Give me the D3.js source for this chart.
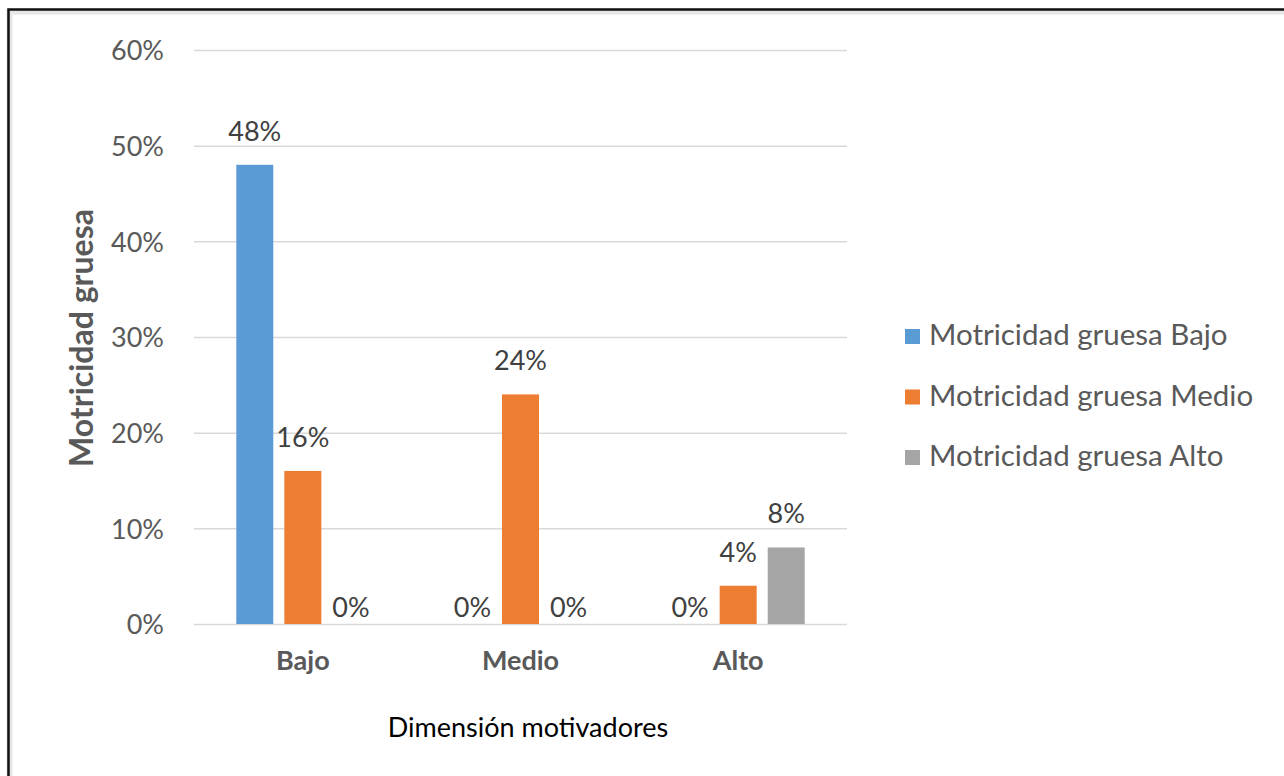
<!DOCTYPE html>
<html>
<head>
<meta charset="utf-8">
<script src="https://cdn.jsdelivr.net/npm/d3@7"></script>
<style>
  body { margin: 0; background: #fff; }
  svg { display: block; font-family: Lato, "Open Sans", sans-serif; }
</style>
</head>
<body>
<svg width="1284" height="776"></svg>
<script>
var categories = ["Bajo", "Medio", "Alto"];
var seriesNames = ["Motricidad gruesa Bajo", "Motricidad gruesa Medio", "Motricidad gruesa Alto"];
var bajoValues = [0.48, 0, 0];
var medioValues = [0.16, 0.24, 0.04];
var altoValues = [0, 0, 0.08];
var yTicks = [0, 0.1, 0.2, 0.3, 0.4, 0.5, 0.6];
var colors = ["#5B9BD5", "#ED7D31", "#A5A5A5"];

var seriesValues = [bajoValues, medioValues, altoValues];
var fontFam = "Lato, 'Open Sans', sans-serif";

var svg = d3.select("svg"),
    margin = {top: 50, right: 437, bottom: 152, left: 194},
    width = svg.attr("width") - margin.left - margin.right,
    height = svg.attr("height") - margin.top - margin.bottom,
    g = svg.append("g").attr("transform", "translate(" + margin.left + "," + margin.top + ")");

// frame (top and left edges only, as in the reference crop)
svg.append("path")
    .attr("d", "M9.5,776V11.5H1284")
    .attr("fill", "none")
    .attr("stroke", "#e6e6e6")
    .attr("stroke-width", 6);
svg.append("path")
    .attr("d", "M8.5,776V9.5H1284")
    .attr("fill", "none")
    .attr("stroke", "#111")
    .attr("stroke-width", 2.5);

var data = categories.map(function(c, i) {
  return {
    cat: c,
    values: seriesNames.map(function(s, j) { return {series: s, idx: j, value: seriesValues[j][i]}; })
  };
});

var x0 = d3.scaleBand().domain(categories).range([0, width]);
var x1 = d3.scaleBand().domain(seriesNames).range([0, x0.bandwidth()])
    .paddingInner(0.23).paddingOuter(0.88);
var y = d3.scaleLinear().domain([0, 0.6]).range([height, 0]);

// gridlines
g.append("g")
    .attr("class", "grid")
    .call(d3.axisLeft(y).tickValues(yTicks).tickSize(-width).tickFormat(""))
    .call(function(s) {
      s.select(".domain").remove();
      s.selectAll("line").attr("stroke", "#d9d9d9").attr("stroke-width", 1.5);
    });

// y axis labels
g.append("g")
    .call(d3.axisLeft(y).tickValues(yTicks).tickSize(0).tickPadding(30).tickFormat(d3.format(".0%")))
    .attr("font-family", fontFam)
    .call(function(s) {
      s.select(".domain").remove();
      s.selectAll("text")
        .attr("fill", "#595959")
        .style("font-size", "27px")
        .attr("dy", "0.36em");
    });

// x axis labels
g.append("g")
    .attr("transform", "translate(0," + height + ")")
    .call(d3.axisBottom(x0).tickSize(0).tickPadding(30))
    .attr("font-family", fontFam)
    .call(function(s) {
      s.select(".domain").remove();
      s.selectAll("text")
        .attr("fill", "#595959")
        .style("font-size", "27px")
        .style("font-weight", "bold")
        .attr("dy", "0.6em");
    });

var groups = g.selectAll(".group")
  .data(data)
  .enter().append("g")
    .attr("class", "group")
    .attr("transform", function(d) { return "translate(" + x0(d.cat) + ",0)"; });

groups.selectAll("rect")
  .data(function(d) { return d.values; })
  .enter().append("rect")
    .attr("x", function(d) { return x1(d.series); })
    .attr("y", function(d) { return y(d.value); })
    .attr("width", x1.bandwidth())
    .attr("height", function(d) { return height - y(d.value); })
    .attr("fill", function(d) { return colors[d.idx]; });

groups.selectAll(".lbl")
  .data(function(d) { return d.values; })
  .enter().append("text")
    .attr("class", "lbl")
    .attr("x", function(d) { return x1(d.series) + x1.bandwidth() / 2; })
    .attr("y", function(d) { return d.value > 0 ? y(d.value) - 24 : y(0) - 7; })
    .attr("text-anchor", "middle")
    .attr("fill", "#404040")
    .style("font-size", "27px")
    .text(function(d) { return d3.format(".0%")(d.value); });

// axis titles
svg.append("text")
    .attr("transform", "translate(93,338) rotate(-90)")
    .attr("text-anchor", "middle")
    .attr("fill", "#595959")
    .style("font-size", "32px")
    .style("font-weight", "bold")
    .text("Motricidad gruesa");

svg.append("text")
    .attr("x", 528)
    .attr("y", 737)
    .attr("text-anchor", "middle")
    .attr("fill", "#000")
    .style("font-size", "27px")
    .text("Dimensión motivadores");

// legend
var legend = svg.selectAll(".legend")
  .data(seriesNames)
  .enter().append("g")
    .attr("class", "legend")
    .attr("transform", function(d, i) { return "translate(905," + (345 + i * 60.5) + ")"; });

legend.append("rect")
    .attr("x", 0)
    .attr("y", -16)
    .attr("width", 15)
    .attr("height", 15)
    .attr("fill", function(d, i) { return colors[i]; });

legend.append("text")
    .attr("x", 24)
    .attr("y", 0)
    .attr("fill", "#595959")
    .style("font-size", "29.5px")
    .text(function(d) { return d; });
</script>
</body>
</html>
